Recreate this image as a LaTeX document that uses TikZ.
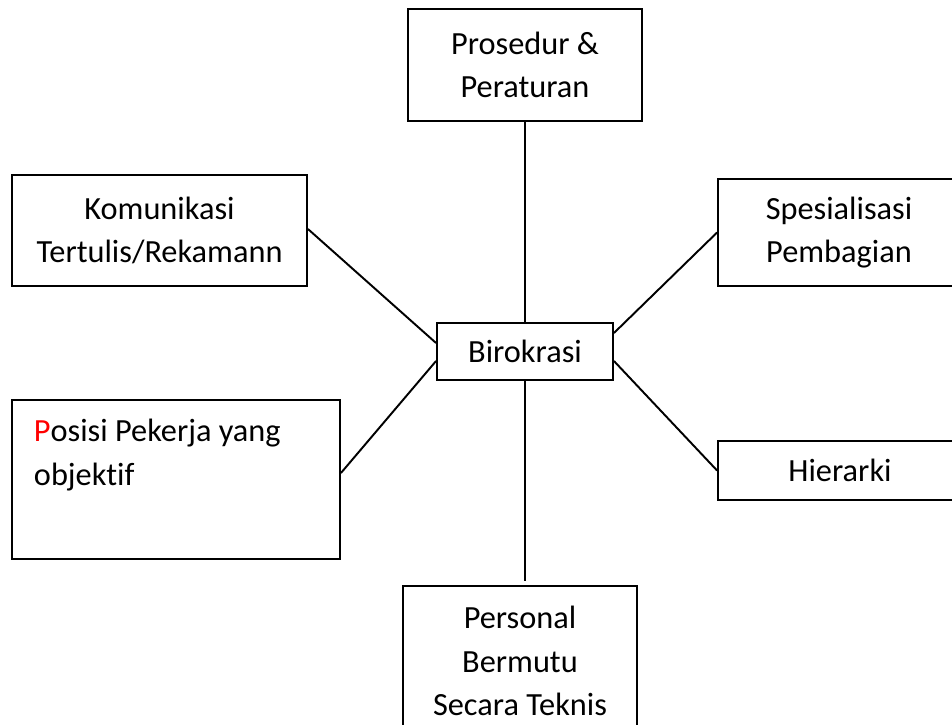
\documentclass[tikz,border=0pt]{standalone}
\usepackage{fontspec}
\setmainfont{Carlito}[Ligatures=NoCommon]
\usepackage{xcolor}
\begin{document}
\begin{tikzpicture}[x=0.02cm,y=-0.02cm,line width=1.1pt,
  kotak/.style={draw,align=center,inner sep=0pt,font=\fontsize{18.4}{24.8}\selectfont},
  teks/.style={align=left,inner sep=0pt,font=\fontsize{18.4}{24.8}\selectfont}]
\clip(0,0)rectangle(952,724);
\node[kotak,minimum width=4.68cm,minimum height=2.24cm](prosedur)at(525,65){Prosedur \&\\Peraturan};
\node[kotak,minimum width=5.9cm,minimum height=2.22cm](komunikasi)at(159.5,230.5){Komunikasi\\Tertulis/Rekamann};
\node[kotak,minimum width=4.84cm,minimum height=2.14cm](spesialisasi)at(839,232.5){Spesialisasi\\Pembagian};
\node[kotak,minimum width=3.52cm,minimum height=1.14cm](birokrasi)at(525,351.5){Birokrasi};
\node[kotak,minimum width=6.56cm,minimum height=3.18cm](posisi)at(176,479.5){};
\node[teks,anchor=base west](posisiteks)at(33,485){\textcolor{red}{P}osisi Pekerja yang\\objektif};
\node[kotak,minimum width=4.88cm,minimum height=1.18cm](hierarki)at(840,470.5){Hierarki};
\node[kotak,minimum width=4.68cm,minimum height=3cm](personal)at(520,661){Personal\\Bermutu\\Secara Teknis};
\coordinate(celah)at([yshift=0.08cm]personal.north);
\draw(prosedur.south)--(birokrasi.north);
\draw([yshift=0.03cm]komunikasi.east)--([yshift=0.17cm]birokrasi.west);
\draw([yshift=0.13cm]posisi.east)--([yshift=-0.19cm]birokrasi.west);
\draw(spesialisasi.west)--([yshift=0.37cm]birokrasi.east);
\draw(hierarki.west)--([yshift=-0.19cm]birokrasi.east);
\draw(birokrasi.south)--(birokrasi.south|-celah);
\end{tikzpicture}
\end{document}
